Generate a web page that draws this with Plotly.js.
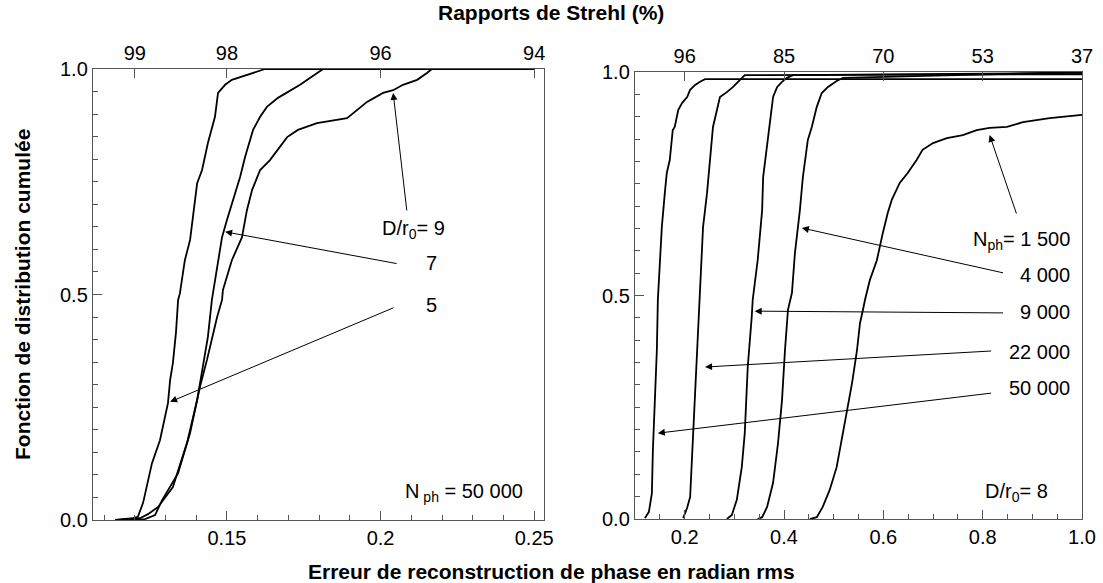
<!DOCTYPE html>
<html>
<head>
<meta charset="utf-8">
<script src="https://cdn.plot.ly/plotly-3.0.1.min.js"></script>
<style>html,body{margin:0;padding:0;background:#fff;}#chart{width:1103px;height:583px;}</style>
</head>
<body>
<div id="chart"></div>
<script>
// ---------- Left panel: N_ph = 50 000, various D/r0 ----------
const err_D5 = [0.1136,0.1194,0.1210,0.1227,0.1256,0.1282,0.1308,0.1315,0.1324,0.1334,0.1341,0.1347,0.1363,0.1380,0.1403,0.1419,0.1438,0.1461,0.1471,0.1494,0.1516,0.1565,0.1608,0.1624,0.25];
const cdf_D5 = [0,0.004,0.007,0.038,0.126,0.177,0.259,0.310,0.348,0.415,0.488,0.503,0.576,0.621,0.747,0.776,0.836,0.894,0.947,0.965,0.976,0.987,0.998,1.0,1.0];

const err_D7 = [0.1145,0.1217,0.1243,0.1276,0.1324,0.1370,0.1403,0.1422,0.1438,0.1451,0.1468,0.1484,0.1500,0.1520,0.1543,0.1559,0.1585,0.1608,0.1630,0.1666,0.1699,0.1738,0.1770,0.1796,0.1813,0.25];
const cdf_D7 = [0,0.004,0.013,0.029,0.073,0.171,0.266,0.339,0.406,0.488,0.561,0.627,0.665,0.710,0.761,0.805,0.865,0.894,0.916,0.936,0.949,0.965,0.980,0.991,1.0,1.0];

const err_D9 = [0.1158,0.1233,0.1266,0.1289,0.1341,0.1380,0.1412,0.1435,0.1468,0.1484,0.1487,0.1516,0.1549,0.1565,0.1582,0.1608,0.1640,0.1663,0.1696,0.1731,0.1793,0.1891,0.1923,0.1956,0.2008,0.2041,0.2073,0.2119,0.2151,0.2167,0.25];
const cdf_D9 = [0,0.002,0.011,0.044,0.104,0.193,0.295,0.355,0.450,0.488,0.510,0.576,0.627,0.687,0.732,0.776,0.798,0.820,0.849,0.865,0.880,0.891,0.909,0.927,0.947,0.953,0.965,0.976,0.991,1.0,1.0];

// ---------- Right panel: D/r0 = 8, various N_ph ----------
const err_N50000 = [0.120,0.128,0.134,0.136,0.140,0.144,0.146,0.150,0.154,0.160,0.164,0.170,0.176,0.180,0.187,0.195,0.205,0.211,0.221,0.231,0.241,1.0];
const cdf_N50000 = [0.002,0.016,0.058,0.154,0.266,0.378,0.490,0.579,0.653,0.729,0.774,0.803,0.870,0.877,0.915,0.931,0.944,0.960,0.971,0.978,0.984,0.984];

const err_N22000 = [0.197,0.205,0.211,0.217,0.223,0.227,0.231,0.237,0.245,0.251,0.257,0.265,0.271,0.285,0.297,0.311,0.321,1.0];
const cdf_N22000 = [0.002,0.025,0.049,0.192,0.304,0.416,0.490,0.653,0.729,0.803,0.877,0.915,0.944,0.955,0.966,0.982,0.993,0.995];

const err_N9000 = [0.285,0.295,0.305,0.315,0.321,0.327,0.335,0.337,0.347,0.356,0.358,0.366,0.372,0.378,0.386,0.396,0.406,0.418,1.0];
const cdf_N9000 = [0,0.009,0.043,0.116,0.192,0.340,0.452,0.490,0.579,0.691,0.765,0.841,0.899,0.944,0.966,0.978,0.987,0.993,0.998];

const err_N4000 = [0.347,0.356,0.366,0.378,0.388,0.396,0.402,0.408,0.416,0.422,0.432,0.438,0.448,0.456,0.466,0.476,0.488,0.506,0.519,1.0];
const cdf_N4000 = [0,0.004,0.027,0.081,0.170,0.266,0.378,0.468,0.506,0.595,0.691,0.765,0.848,0.877,0.922,0.953,0.966,0.980,0.987,1.0];

const err_N1500 = [0.452,0.466,0.478,0.492,0.506,0.516,0.527,0.537,0.547,0.553,0.559,0.563,0.573,0.587,0.599,0.609,0.617,0.627,0.633,0.649,0.667,0.679,0.700,0.718,0.728,0.760,0.788,0.814,0.849,0.881,0.935,1.0];
const cdf_N1500 = [0,0.004,0.027,0.065,0.116,0.177,0.244,0.304,0.378,0.438,0.468,0.490,0.535,0.579,0.640,0.685,0.714,0.736,0.752,0.774,0.803,0.826,0.841,0.848,0.852,0.859,0.870,0.875,0.877,0.888,0.897,0.904];

// ---------- Tick labels ----------
const leftBottomTickVals = [0.15, 0.2, 0.25];
const leftBottomTickText = ["0.15", "0.2", "0.25"];
const leftTopTickVals = [0.12, 0.15, 0.2, 0.25];
const leftTopTickText = ["99", "98", "96", "94"];
const rightBottomTickVals = [0.2, 0.4, 0.6, 0.8, 1.0];
const rightBottomTickText = ["0.2", "0.4", "0.6", "0.8", "1.0"];
const rightTopTickText = ["96", "85", "70", "53", "37"];
const yTickVals = [0, 0.5, 1.0];
const yTickText = ["0.0", "0.5", "1.0"];

const FONT = 'Liberation Sans, Arial, Helvetica, sans-serif';
const AX = '#555';
const LW = 1.8;

function curve(x, y, xa, ya) {
  return {x: x, y: y, xaxis: xa, yaxis: ya, mode: 'lines', type: 'scatter',
          line: {color: 'black', width: LW}, hoverinfo: 'skip', showlegend: false};
}

const data = [
  curve(err_D5, cdf_D5, 'x', 'y'),
  curve(err_D7, cdf_D7, 'x', 'y'),
  curve(err_D9, cdf_D9, 'x', 'y'),
  curve(err_N50000, cdf_N50000, 'x3', 'y2'),
  curve(err_N22000, cdf_N22000, 'x3', 'y2'),
  curve(err_N9000, cdf_N9000, 'x3', 'y2'),
  curve(err_N4000, cdf_N4000, 'x3', 'y2'),
  curve(err_N1500, cdf_N1500, 'x3', 'y2'),
  // empty traces so the top (Strehl) axes are drawn
  {x: [], y: [], xaxis: 'x2', yaxis: 'y', mode: 'lines', type: 'scatter', showlegend: false, hoverinfo: 'skip'},
  {x: [], y: [], xaxis: 'x4', yaxis: 'y2', mode: 'lines', type: 'scatter', showlegend: false, hoverinfo: 'skip'}
];

const tickFont = {family: FONT, size: 20, color: '#000'};
function minorTicks(d) {
  return {tickmode: 'linear', tick0: 0, dtick: d, ticks: 'inside', ticklen: 5, tickwidth: 1, tickcolor: AX, showgrid: false};
}
function baseAxis(extra) {
  return Object.assign({
    showgrid: false, zeroline: false, showline: true, linecolor: AX, linewidth: 1.2,
    ticks: 'inside', ticklen: 9, tickwidth: 1, tickcolor: AX, tickfont: tickFont,
    tickmode: 'array', fixedrange: true
  }, extra);
}

const W = 1103, H = 583;
const leftDom = [93 / W, 544 / W];
const rightDom = [635 / W, 1082 / W];
const leftYDom = [(H - 520) / H, (H - 69) / H];
const rightYDom = [(H - 519) / H, (H - 72) / H];
const leftRange = [0.1064, 0.2532];
const rightRange = [0.1, 1.0];

const layout = {
  width: W, height: H,
  margin: {l: 0, r: 0, t: 0, b: 0},
  paper_bgcolor: '#fff', plot_bgcolor: 'rgba(0,0,0,0)',
  font: {family: FONT, color: '#000'},
  showlegend: false,
  xaxis: baseAxis({domain: leftDom, range: leftRange, anchor: 'y',
    tickvals: leftBottomTickVals, ticktext: leftBottomTickText, minor: minorTicks(0.01)}),
  xaxis2: baseAxis({overlaying: 'x', side: 'top', anchor: 'y', range: leftRange,
    tickvals: leftTopTickVals, ticktext: leftTopTickText}),
  yaxis: baseAxis({domain: leftYDom, range: [0, 1], anchor: 'x', mirror: true,
    tickvals: yTickVals, ticktext: yTickText, minor: minorTicks(0.05)}),
  xaxis3: baseAxis({domain: rightDom, range: rightRange, anchor: 'y2',
    tickvals: rightBottomTickVals, ticktext: rightBottomTickText, minor: minorTicks(0.05)}),
  xaxis4: baseAxis({overlaying: 'x3', side: 'top', anchor: 'y2', range: rightRange,
    tickvals: rightBottomTickVals, ticktext: rightTopTickText}),
  yaxis2: baseAxis({domain: rightYDom, range: [0, 1], anchor: 'x3', mirror: true,
    tickvals: yTickVals, ticktext: yTickText, minor: minorTicks(0.05)}),
  annotations: []
};

const A = layout.annotations;
const titleFont = {family: FONT, size: 21, color: '#000'};
A.push({xref: 'paper', yref: 'paper', x: 551 / W, y: 1 - 12 / H, text: '<b>Rapports de Strehl (%)</b>',
        showarrow: false, font: titleFont, xanchor: 'center', yanchor: 'middle'});
A.push({xref: 'paper', yref: 'paper', x: 551 / W, y: 1 - 571 / H, text: '<b>Erreur de reconstruction de phase en radian rms</b>',
        showarrow: false, font: titleFont, xanchor: 'center', yanchor: 'middle'});
A.push({xref: 'paper', yref: 'paper', x: 22 / W, y: 1 - 295 / H, text: '<b>Fonction de distribution cumulée</b>',
        showarrow: false, font: titleFont, xanchor: 'center', yanchor: 'middle', textangle: -90});

const lblFont = {family: FONT, size: 20, color: '#000'};
function label(xr, yr, x, y, t) {
  A.push({xref: xr, yref: yr, x: x, y: y, text: t, showarrow: false, font: lblFont, xanchor: 'right', yanchor: 'middle'});
}
function arrow(xr, yr, x, y, ax, ay) {
  A.push({xref: xr, yref: yr, axref: xr, ayref: yr, x: x, y: y, ax: ax, ay: ay, text: '',
          showarrow: true, arrowhead: 2, arrowsize: 1.4, arrowwidth: 1, arrowcolor: '#000', standoff: 0, startstandoff: 0});
}

// left panel labels
label('x', 'y', 0.2216, 0.645, 'D/r<sub>0</sub>= 9');
label('x', 'y', 0.2190, 0.570, '7');
label('x', 'y', 0.2190, 0.477, '5');
label('x', 'y', 0.2470, 0.062, 'N<sub> ph</sub> = 50 000');
arrow('x', 'y', 0.2041, 0.947, 0.2086, 0.683);
arrow('x', 'y', 0.1494, 0.639, 0.2057, 0.568);
arrow('x', 'y', 0.1315, 0.262, 0.2047, 0.472);

// right panel labels
label('x3', 'y2', 0.979, 0.624, 'N<sub>ph</sub>= 1 500');
label('x3', 'y2', 0.979, 0.546, '4 000');
label('x3', 'y2', 0.979, 0.463, '9 000');
label('x3', 'y2', 0.979, 0.374, '22 000');
label('x3', 'y2', 0.979, 0.293, '50 000');
label('x3', 'y2', 0.935, 0.060, 'D/r<sub>0</sub>= 8');
arrow('x3', 'y2', 0.814, 0.859, 0.869, 0.680);
arrow('x3', 'y2', 0.436, 0.651, 0.844, 0.550);
arrow('x3', 'y2', 0.341, 0.465, 0.844, 0.461);
arrow('x3', 'y2', 0.241, 0.340, 0.820, 0.376);
arrow('x3', 'y2', 0.146, 0.192, 0.820, 0.282);

Plotly.newPlot('chart', data, layout, {staticPlot: true, displayModeBar: false});
</script>
</body>
</html>
